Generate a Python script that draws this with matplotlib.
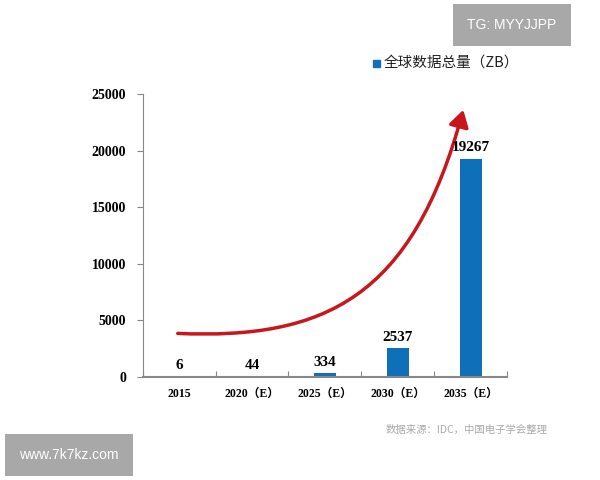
import matplotlib
matplotlib.use("Agg")
import matplotlib.pyplot as plt
from matplotlib.path import Path
from matplotlib.patches import FancyArrowPatch, Rectangle

categories = ["2015", "2020（E）", "2025（E）", "2030（E）", "2035（E）"]
values = [6, 44, 334, 2537, 19267]
yticks = [0, 5000, 10000, 15000, 20000, 25000]

cjk = "Noto Sans CJK SC"
serif = "Liberation Serif"

fig = plt.figure(figsize=(6, 4.8), dpi=100)
ax = fig.add_axes([0.238, 0.2146, 0.607, 0.5896])
x = range(len(categories))
ax.bar(x, values, width=0.3, color="#0f6fb8")
ax.set_xlim(-0.5, 4.5)
ax.set_ylim(0, 25000)
ax.set_yticks(yticks)
ax.set_yticklabels([str(t) for t in yticks], fontfamily=serif, fontweight="bold", fontsize=10)
ax.set_xticks([i + 0.5 for i in range(-1, 5)], minor=False)
ax.set_xticklabels([])
ax.set_xticks(list(x), minor=True)
ax.set_xticklabels(categories, minor=True, fontfamily=[serif, cjk], fontweight="bold", fontsize=8.5)
ax.tick_params(axis="x", which="major", length=4, direction="in", color="#888")
ax.tick_params(axis="x", which="minor", length=0, pad=8)
ax.tick_params(axis="y", length=4, direction="out", color="#888", pad=8)
for s in ["top", "right"]:
    ax.spines[s].set_visible(False)
ax.spines["left"].set_color("#888")
ax.spines["bottom"].set_color("#888")
ax.spines["bottom"].set_linewidth(1.5)

for i, v in enumerate(values):
    ax.text(i, v + 400, str(v), ha="center", va="bottom", fontfamily=serif,
            fontweight="bold", fontsize=11)

# trend arrow
pts = [(-0.02, 3850), (2.0, 3300), (3.2, 7000), (3.9, 23600)]
path = Path(pts, [Path.MOVETO, Path.CURVE4, Path.CURVE4, Path.CURVE4])
arrow = FancyArrowPatch(path=path, arrowstyle="-|>,head_length=10,head_width=6",
                        color="#c8161d", lw=2.5, transform=ax.transData, clip_on=False)
ax.add_patch(arrow)

# legend
fig.patches.append(Rectangle((373/600, 1-67/480), 7/600, 7/480, color="#0f6fb8",
                             transform=fig.transFigure, figure=fig))
fig.text(384/600, 1-63/480, "全球数据总量（ZB）", fontfamily=cjk, fontsize=10.5,
         va="center", ha="left", color="#222")

fig.text(467/600, 1-430/480, "数据来源：IDC，中国电子学会整理", fontfamily=cjk,
         fontsize=7.5, color="#aaa", ha="center", va="center")

fig.text(512/600, 1-25/480, "TG: MYYJJPP", fontfamily="Liberation Sans", fontsize=10,
         color="white", ha="center", va="center",
         bbox=dict(boxstyle="square,pad=1.0", fc="#a8a8a8", ec="none"))
fig.text(69/600, 1-455/480, "www.7k7kz.com", fontfamily="Liberation Sans", fontsize=10,
         color="white", ha="center", va="center",
         bbox=dict(boxstyle="square,pad=1.0", fc="#a8a8a8", ec="none"))

fig.savefig("out.png", dpi=100)
